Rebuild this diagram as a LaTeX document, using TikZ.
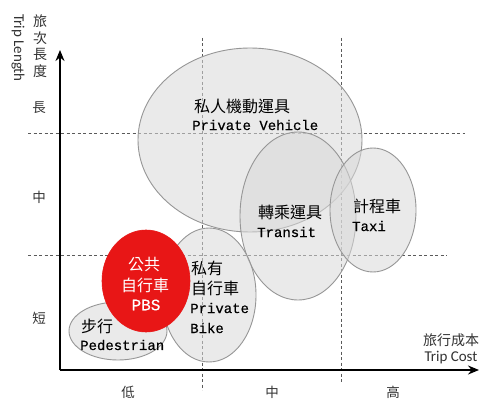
\documentclass[tikz,border=0pt]{standalone}
\usepackage{fontspec}
\usetikzlibrary{arrows.meta}
\newfontfamily\cjk{Noto Sans CJK TC}
\newfontfamily\latfont[FakeBold=0.4]{Liberation Mono}
\newfontfamily\calfont{Carlito}
\definecolor{pbsred}{RGB}{232,22,22}
\definecolor{edgegray}{RGB}{150,150,150}
\definecolor{dashgray}{RGB}{90,90,90}
\tikzset{
  grid line/.style={draw=dashgray, line width=0.9pt, dash pattern=on 3pt off 2.5pt},
  axis line/.style={draw=black, line width=1.8pt, -{Stealth[length=11pt,width=9pt]}},
  mode/.style={draw=edgegray, line width=0.9pt, fill=black!15, fill opacity=0.55},
  pbs/.style={draw=pbsred, line width=0.6pt, fill=pbsred},
  cjklab/.style={inner sep=0pt, font=\cjk\fontsize{16}{18}\selectfont},
  latlab/.style={inner sep=0pt, font=\latfont\fontsize{14}{16}\selectfont},
  axlab/.style={inner sep=0pt, font=\cjk\fontsize{13.5}{16}\selectfont, text=black!80},
  enlab/.style={inner sep=0pt, font=\calfont\fontsize{15}{17}\selectfont, text=black!80},
}
\begin{document}
\begin{tikzpicture}[x=1pt,y=-1pt]
\useasboundingbox[fill=white] (0,0) rectangle (489,403);
% grid lines
\coordinate (h1a) at (28,133); \coordinate (h1b) at (465,133);
\coordinate (h2a) at (28,255); \coordinate (h2b) at (447,255);
\coordinate (v1a) at (202,38); \coordinate (v1b) at (202,390);
\coordinate (v2a) at (341,38); \coordinate (v2b) at (341,383);
\draw[grid line] (h1a) -- (h1b);
\draw[grid line] (h2a) -- (h2b);
\draw[grid line] (v1a) -- (v1b);
\draw[grid line] (v2a) -- (v2b);
% ellipses
\path[mode] (250,140) ellipse [x radius=112, y radius=92];
\path[mode] (298,216) ellipse [x radius=58, y radius=84];
\path[mode] (373,210) ellipse [x radius=43, y radius=62];
\path[mode] (209,295) ellipse [x radius=47, y radius=67];
\path[mode] (118,331) ellipse [x radius=49, y radius=29];
\path[pbs] (146,281) ellipse [x radius=44, y radius=51];
% axes
\coordinate (O) at (60,370);
\coordinate (ytip) at (60,50);
\coordinate (xtip) at (479,370);
\draw[axis line] (O) -- (ytip);
\draw[axis line] (O) -- (xtip);
% axis labels
\node[axlab, align=center, font=\cjk\fontsize{14}{16.5}\selectfont] (ylab) at (40,46) {旅\\次\\長\\度};
\node[enlab, rotate=-90] (ylaben) at (18,48) {Trip Length};
\node[axlab] (yl) at (39,108) {長};
\node[axlab] (ym) at (39,197) {中};
\node[axlab] (ys) at (39,318) {短};
\node[axlab, font=\cjk\fontsize{14}{16}\selectfont] (xlab) at (451,340) {旅行成本};
\node[enlab] (xlaben) at (451,358) {Trip Cost};
\node[axlab] (xl) at (128,392) {低};
\node[axlab] (xm) at (272,392) {中};
\node[axlab] (xh) at (393,392) {高};
% mode labels
\node[cjklab, anchor=west] (pv1) at (194,106) {私人機動運具};
\node[latlab, anchor=west] (pv2) at (192,125) {Private Vehicle};
\node[cjklab, anchor=west] (tr1) at (258,212) {轉乘運具};
\node[latlab, anchor=west] (tr2) at (257,232) {Transit};
\node[cjklab, anchor=west] (tx1) at (353,206) {計程車};
\node[latlab, anchor=west] (tx2) at (352,226) {Taxi};
\node[cjklab, anchor=west] (pb1) at (191,268) {私有};
\node[cjklab, anchor=west] (pb2) at (191,288) {自行車};
\node[latlab, anchor=west] (pb3) at (190,308) {Private};
\node[latlab, anchor=west] (pb4) at (190,328) {Bike};
\node[cjklab, anchor=west] (pd1) at (81,326) {步行};
\node[latlab, anchor=west] (pd2) at (80,345) {Pedestrian};
\node[cjklab, text=white] (ps1) at (144,264) {公共};
\node[cjklab, text=white] (ps2) at (145,285) {自行車};
\node[latlab, text=white, font=\latfont\fontsize{16}{18}\selectfont] (ps3) at (146,305) {PBS};
\end{tikzpicture}
\end{document}
